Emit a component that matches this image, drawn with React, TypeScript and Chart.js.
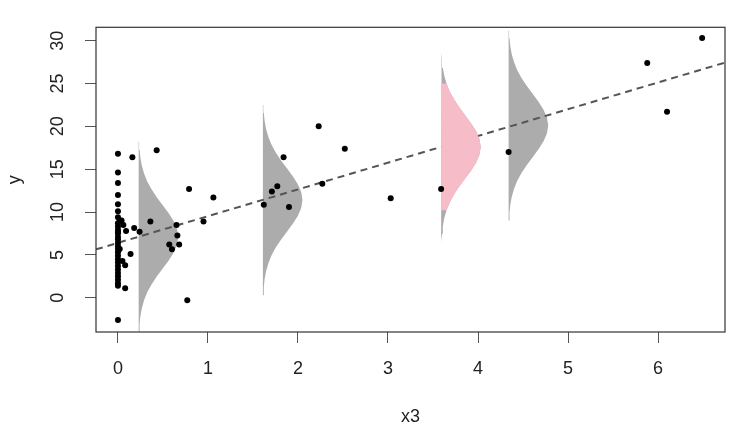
import { useEffect, useRef } from 'react';
import { Chart, registerables } from 'chart.js';

Chart.register(...registerables);

// observed (x3, y) pairs
const x3Values = [
  0, 0, 0, 0, 0, 0, 0, 0, 0, 0,
  0, 0, 0, 0, 0, 0, 0, 0, 0, 0,
  0, 0, 0, 0, 0, 0, 0, 0, 0,
  0.02, 0.04, 0.06, 0.09, 0.02, 0.08, 0.05, 0.14, 0.08, 0.16,
  0.18, 0.24, 0.36, 0.43, 0.57, 0.6, 0.65, 0.66, 0.68, 0.77,
  0.79, 0.95, 1.06, 1.62, 1.71, 1.77, 1.84, 1.9, 2.23, 2.27,
  2.52, 3.03, 3.59, 4.34, 5.88, 6.1, 6.49,
];
const yValues = [
  16.8, 14.6, 13.4, 12.0, 10.9, 10.1, 9.4, 8.7, 8.3, 7.9,
  7.5, 7.1, 6.8, 6.4, 6.0, 5.7, 5.3, 4.9, 4.5, 4.1,
  3.7, 3.3, 2.9, 2.5, 2.1, 1.7, 1.4, 7.7, -2.6,
  9.0, 9.0, 8.5, 7.8, 5.7, 3.8, 4.3, 5.1, 1.1, 16.4,
  8.15, 7.7, 8.9, 17.2, 6.2, 5.65, 8.5, 7.25, 6.2, -0.3,
  12.7, 8.9, 11.7, 10.85, 12.4, 13.0, 16.4, 10.6, 20.0, 13.3,
  17.4, 11.6, 12.7, 17.0, 27.4, 21.7, 30.3,
];

const xTicks = [0, 1, 2, 3, 4, 5, 6];
const yTicks = [0, 5, 10, 15, 20, 25, 30];
const xLimits = [-0.244, 6.744];
const yLimits = [-4.0, 31.56];

// fitted line y = a + b * x3
const fitIntercept = 6.4;
const fitSlope = 3.12;

// vertical density curves: base position, centre, spread
const densityX = [0.23, 1.61, 3.59, 4.34];
const densityMean = [7.1, 11.4, 17.6, 20.1];
const densitySd = 3.7;
const highlightIndex = 2;
const highlightZ = 2;

// curve profile (offset in sd, width in x3 units)
const profileZ = [
  -3, -2.75, -2.5, -2.25, -2, -1.75, -1.5, -1.25, -1, -0.75, -0.5, -0.25, 0,
  0.25, 0.5, 0.75, 1, 1.25, 1.5, 1.75, 2, 2.25, 2.5, 2.75, 3,
];
const profileWidth = [
  0.005, 0.01, 0.019, 0.035, 0.06, 0.095, 0.143, 0.201, 0.267, 0.332, 0.388, 0.426, 0.44,
  0.426, 0.388, 0.332, 0.267, 0.201, 0.143, 0.095, 0.06, 0.035, 0.019, 0.01, 0.005,
];

const FONT = 'Liberation Sans, Arial, sans-serif';
const TEXT = '#222';
const TICK = '#555';

function densityShape(base: number, mean: number, zMax: number) {
  const inner = profileZ
    .map((z, k) => ({ z, w: profileWidth[k] }))
    .filter((p) => Math.abs(p.z) <= zMax + 1e-9);
  const pts = [{ x: base, y: mean + inner[0].z * densitySd }];
  inner.forEach((p) => pts.push({ x: base + p.w, y: mean + p.z * densitySd }));
  pts.push({ x: base, y: mean + inner[inner.length - 1].z * densitySd });
  return pts;
}

const boxPlugin = {
  id: 'box',
  afterDraw(chart: Chart) {
    const { ctx, chartArea: a } = chart;
    ctx.save();
    ctx.strokeStyle = '#333';
    ctx.lineWidth = 1.2;
    ctx.strokeRect(a.left, a.top, a.right - a.left, a.bottom - a.top);
    ctx.restore();
  },
};

export default function App() {
  const canvasRef = useRef<HTMLCanvasElement>(null);

  useEffect(() => {
    if (!canvasRef.current) return;

    const points = x3Values.map((x, i) => ({ x, y: yValues[i] }));
    const greyCurves = densityX.map((bx, i) => ({
      data: densityShape(bx, densityMean[i], 3),
      showLine: true,
      fill: 'shape',
      backgroundColor: '#acacac',
      borderWidth: 0,
      pointRadius: 0,
      order: 3,
    }));

    const chart = new Chart(canvasRef.current, {
      type: 'scatter',
      data: {
        datasets: [
          {
            data: points,
            pointRadius: 3,
            pointBackgroundColor: '#000',
            pointBorderWidth: 0,
            showLine: false,
            order: 0,
          },
          {
            data: densityShape(densityX[highlightIndex], densityMean[highlightIndex], highlightZ),
            showLine: true,
            fill: 'shape',
            backgroundColor: '#f6bcc8',
            borderWidth: 0,
            pointRadius: 0,
            order: 1,
          },
          {
            data: xLimits.map((x) => ({ x, y: fitIntercept + fitSlope * x })),
            showLine: true,
            borderColor: '#555',
            borderDash: [7, 5],
            borderWidth: 2,
            pointRadius: 0,
            fill: false,
            order: 2,
          },
          ...greyCurves,
        ] as any,
      },
      options: {
        animation: false,
        responsive: true,
        maintainAspectRatio: false,
        layout: { padding: { top: 12, right: 8, left: 0, bottom: 0 } },
        plugins: { legend: { display: false }, tooltip: { enabled: false } },
        scales: {
          x: {
            type: 'linear',
            min: xLimits[0],
            max: xLimits[1],
            afterBuildTicks: (s: any) => {
              s.ticks = xTicks.map((v) => ({ value: v }));
            },
            afterFit: (s: any) => {
              s.height = 102;
            },
            grid: { drawOnChartArea: false, drawTicks: true, tickLength: 11, color: TICK },
            border: { display: false },
            ticks: {
              maxRotation: 0,
              minRotation: 0,
              padding: 15,
              color: TEXT,
              font: { family: FONT, size: 18 },
              callback: (v: any) => String(v),
            },
            title: {
              display: true,
              text: 'x3',
              color: TEXT,
              font: { family: FONT, size: 18 },
              padding: { top: 0, bottom: 6 },
            },
          },
          y: {
            type: 'linear',
            min: yLimits[0],
            max: yLimits[1],
            afterBuildTicks: (s: any) => {
              s.ticks = yTicks.map((v) => ({ value: v }));
            },
            afterFit: (s: any) => {
              s.width = 96;
            },
            grid: { drawOnChartArea: false, drawTicks: true, tickLength: 11, color: TICK },
            border: { display: false },
            ticks: {
              minRotation: 90,
              maxRotation: 90,
              crossAlign: 'center',
              padding: 16.5,
              color: TEXT,
              font: { family: FONT, size: 18 },
              callback: (v: any) => String(v),
            },
            title: {
              display: true,
              text: 'y',
              color: TEXT,
              font: { family: FONT, size: 18 },
              padding: { top: 4, bottom: 0 },
            },
          },
        },
      },
      plugins: [boxPlugin],
    });

    return () => chart.destroy();
  }, []);

  return (
    <div style={{ position: 'absolute', left: 0, top: 0, width: 733, height: 434, background: '#fff' }}>
      <canvas ref={canvasRef} />
    </div>
  );
}
